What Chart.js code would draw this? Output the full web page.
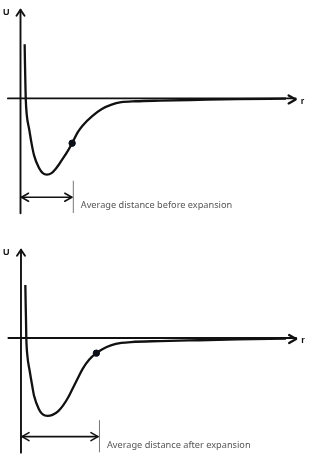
<!DOCTYPE html>
<html>
<head>
<meta charset="utf-8">
<script src="https://cdn.jsdelivr.net/npm/chart.js@4.4.1/dist/chart.umd.min.js"></script>
<style>
  html, body { margin: 0; padding: 0; background: #fff; }
  .panel { position: relative; width: 321px; }
</style>
</head>
<body>
<div class="panel" style="height:237px"><canvas id="beforeChart"></canvas></div>
<div class="panel" style="height:224px"><canvas id="afterChart"></canvas></div>
<script>
// interatomic distance r (arb. units) and potential energy U (arb. units)
const rBefore = [0.43, 0.46, 0.50, 0.54, 0.65, 0.9, 1.15, 1.4, 1.9, 2.3, 2.73, 3.2, 3.6, 4.0, 4.4, 4.9, 5.33, 5.9, 6.4, 7.4, 8.4, 9.4, 10.4, 11.9, 14.4, 18.4, 22.4, 27.4];
const uBefore = [0.706, 0.469, 0.219, 0, -0.219, -0.406, -0.594, -0.744, -0.906, -0.975, -0.994, -0.975, -0.925, -0.856, -0.781, -0.681, -0.585, -0.444, -0.356, -0.231, -0.138, -0.081, -0.05, -0.0375, -0.029, -0.019, -0.01, -0.004];

const rAfter = [0.45, 0.48, 0.52, 0.55, 0.65, 0.9, 1.15, 1.35, 1.85, 2.25, 2.75, 3.25, 3.85, 4.35, 4.85, 5.35, 5.85, 6.35, 7.05, 7.78, 8.35, 9.35, 10.35, 11.35, 14.35, 18.35, 22.35, 27.35];
const uAfter = [0.694, 0.469, 0.219, 0, -0.219, -0.431, -0.619, -0.756, -0.931, -1.0, -1.019, -1.006, -0.956, -0.881, -0.781, -0.656, -0.531, -0.406, -0.281, -0.198, -0.15, -0.094, -0.065, -0.0525, -0.04, -0.029, -0.019, -0.009];

// marked state (dot) and average distance shown by the arrow
const pointBefore = { r: 5.33, u: -0.585 };
const pointAfter = { r: 7.78, u: -0.198 };
const avgBefore = 5.4;
const avgAfter = 8.05;

const labelBefore = 'Average distance before expansion';
const labelAfter = 'Average distance after expansion';

function arrowHead(ctx, x, y, dir) {
    // dir: 'up' | 'right' | 'left'
    ctx.beginPath();
    if (dir === 'up') {
        ctx.moveTo(x - 4, y + 6); ctx.lineTo(x, y); ctx.lineTo(x + 4, y + 6);
    } else if (dir === 'right') {
        ctx.moveTo(x - 7, y - 4); ctx.lineTo(x, y); ctx.lineTo(x - 7, y + 4);
    } else {
        ctx.moveTo(x + 7, y - 4); ctx.lineTo(x, y); ctx.lineTo(x + 7, y + 4);
    }
    ctx.stroke();
}

const potentialAxes = {
    id: 'potentialAxes',
    afterDraw(chart, args, opts) {
        const { ctx } = chart;
        const xs = chart.scales.x, ys = chart.scales.y;
        const x0 = xs.getPixelForValue(0);
        const y0 = ys.getPixelForValue(0);
        ctx.save();
        ctx.strokeStyle = '#111';
        ctx.lineCap = 'round';
        ctx.lineJoin = 'round';

        // U axis
        const yTop = ys.getPixelForValue(1.156);
        const yBottom = ys.getPixelForValue(-1.5);
        ctx.lineWidth = 1.9;
        ctx.beginPath(); ctx.moveTo(x0, yBottom); ctx.lineTo(x0, yTop); ctx.stroke();
        arrowHead(ctx, x0, yTop, 'up');

        // r axis
        const xLeft = xs.getPixelForValue(-1.3);
        const xRight = xs.getPixelForValue(28.4);
        ctx.beginPath(); ctx.moveTo(xLeft, y0); ctx.lineTo(xRight, y0); ctx.stroke();
        ctx.lineWidth = 2.3;
        arrowHead(ctx, xRight, y0 + 1, 'right');

        ctx.fillStyle = '#111';
        ctx.font = 'bold 9px "Liberation Sans", Arial, sans-serif';
        ctx.textBaseline = 'middle';
        ctx.textAlign = 'left';
        ctx.fillText('U', 3, yTop + 3);
        ctx.fillText('r', xRight + 5, y0 + 3);

        // average distance arrow
        const xa = xs.getPixelForValue(opts.avg);
        const ya = ys.getPixelForValue(-1.29);
        ctx.lineWidth = 1.6;
        ctx.beginPath(); ctx.moveTo(x0 + 1, ya); ctx.lineTo(xa - 1, ya); ctx.stroke();
        arrowHead(ctx, x0 + 1, ya, 'left');
        arrowHead(ctx, xa - 1, ya, 'right');

        ctx.strokeStyle = '#777';
        ctx.lineWidth = 1;
        ctx.beginPath();
        ctx.moveTo(xa + 0.5, ys.getPixelForValue(-1.08));
        ctx.lineTo(xa + 0.5, ys.getPixelForValue(-1.49));
        ctx.stroke();

        ctx.fillStyle = '#555';
        ctx.font = '9.2px "Noto Sans", "Open Sans", sans-serif';
        ctx.fillText(opts.text, xa + 8, ys.getPixelForValue(-1.4));
        ctx.restore();
    }
};

function makeChart(id, rs, us, point, avg, text, yMin, yMax, xMin, xMax) {
    const curve = rs.map((r, i) => ({ x: r, y: us[i] }));
    return new Chart(document.getElementById(id), {
        type: 'line',
        data: {
            datasets: [
                {
                    data: curve,
                    borderColor: '#111',
                    borderWidth: 2.3,
                    pointRadius: 0,
                    cubicInterpolationMode: 'monotone',
                    fill: false
                },
                {
                    data: [{ x: point.r, y: point.u }],
                    showLine: false,
                    pointRadius: 3.2,
                    pointBackgroundColor: '#0a0f1e',
                    pointBorderColor: '#0a0f1e'
                }
            ]
        },
        options: {
            responsive: true,
            maintainAspectRatio: false,
            animation: false,
            layout: { padding: 0 },
            plugins: {
                legend: { display: false },
                tooltip: { enabled: false },
                potentialAxes: { avg: avg, text: text }
            },
            scales: {
                x: { type: 'linear', min: xMin, max: xMax, display: false },
                y: { type: 'linear', min: yMin, max: yMax, display: false }
            }
        },
        plugins: [potentialAxes]
    });
}

document.addEventListener('DOMContentLoaded', () => {
    makeChart('beforeChart', rBefore, uBefore, pointBefore, avgBefore, labelBefore, -1.74375, 1.21875, -1.6, 30.5);
    makeChart('afterChart', rAfter, uAfter, pointAfter, avgAfter, labelAfter, -1.54375, 1.25625, -1.65, 30.45);
});
</script>
</body>
</html>
